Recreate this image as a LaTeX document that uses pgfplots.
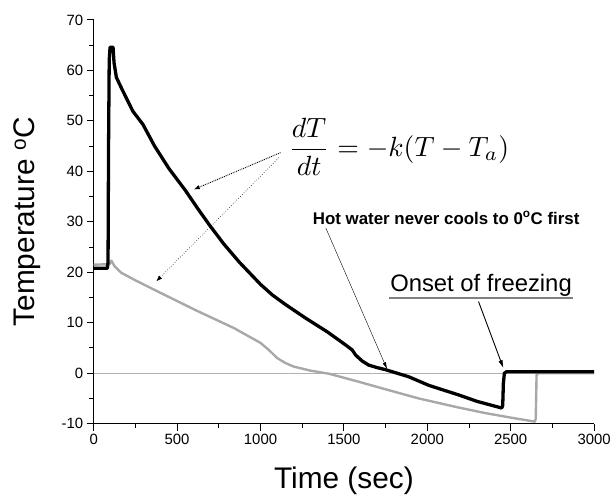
\documentclass[border=0pt]{standalone}
\usepackage{fontspec}
\setmainfont{Liberation Sans}
\usepackage{pgfplots}
\usepackage{pgfplotstable}
\pgfplotsset{compat=1.18}
\usetikzlibrary{arrows.meta}
\definecolor{lightcurve}{RGB}{168,168,168}
\definecolor{zeroline}{RGB}{178,178,178}

\pgfplotstableread{
t T
0 20.8
82 20.8
86 22
89 45
93 62
98 64.6
116 64.6
122 61.5
136 58.6
175 55.9
235 51.9
295 49.3
365 45.0
450 40.6
550 36.2
620 32.8
693 29.4
780 25.6
873 22.0
1000 17.6
1071 15.5
1150 13.6
1271 10.9
1400 8.2
1510 5.6
1550 4.6
1570 3.6
1610 2.4
1649 1.6
1700 1.1
1749 0.7
1888 -0.7
2008 -2.4
2187 -4.3
2300 -5.6
2446 -6.9
2452 -6.4
2456 -2.0
2462 0.0
2475 0.3
3000 0.3
}\hotwater

\pgfplotstableread{
t T
0 21.5
95 21.6
106 22.3
125 21.2
165 19.9
250 18.4
365 16.5
604 12.6
843 8.9
1000 6.0
1050 4.6
1100 3.0
1150 2.0
1200 1.3
1300 0.5
1410 -0.1
1600 -1.8
1729 -3.0
1948 -5.0
2187 -6.8
2347 -7.9
2500 -8.8
2645 -9.6
2650 -9.0
2655 -0.3
2665 0.0
3000 0.0
}\coldwater

\begin{document}
\begin{tikzpicture}
\begin{axis}[
  scale only axis, width=502bp, height=405bp,
  xmin=0, xmax=3000, ymin=-10, ymax=70,
  axis lines=left, axis line style={-, line width=1.1bp},
  xtick={0,500,...,3000}, ytick={-10,0,...,70},
  minor x tick num=1, minor y tick num=1,
  tick align=outside, major tick length=7bp, minor tick length=4.5bp,
  tick style={line width=1bp, black},
  scaled x ticks=false,
  /pgf/number format/assume math mode=true,
  /pgf/number format/1000 sep={},
  xticklabel style={font=\fontsize{15}{17}\selectfont},
  yticklabel style={font=\fontsize{15}{17}\selectfont},
  every axis x label/.style={at={(axis description cs:0.5,-0.1605)}, anchor=base,
    font=\fontsize{30}{32}\selectfont},
  every axis y label/.style={at={(axis description cs:-0.1175,0.5)}, rotate=90, anchor=base,
    font=\fontsize{30}{32}\selectfont},
  xlabel={Time (sec)},
  ylabel={Temperature \textsuperscript{o}C},
]
\coordinate (bl) at (rel axis cs:0,0);
\coordinate (tr) at (rel axis cs:1,1);
\addplot[zeroline, line width=0.7bp] coordinates {(0,0) (3000,0)};
\addplot[lightcurve, line width=2.4bp, line join=round] table[x=t, y=T] {\coldwater};
\addplot[black, line width=3.3bp, line join=round] table[x=t, y=T] {\hotwater};

\node[scale=2.8] at (axis cs:1829,44.8) {$\displaystyle\frac{dT}{dt} = -k(T-T_a)$};
\draw[densely dotted, line width=0.9bp, -{Latex[length=6bp,width=4.5bp]}] (axis cs:1120,43.7) -- (axis cs:600,36.4);
\draw[dotted, line width=0.6bp, -{Latex[length=6bp,width=4.5bp]}] (axis cs:1110,42.7) -- (axis cs:375,18.2);

\node[anchor=base, font=\bfseries\fontsize{17}{19}\selectfont] at (axis cs:2113,29.56) {Hot water never cools to 0\textsuperscript{o}C first};
\draw[line width=0.4bp, -{Latex[length=7bp,width=3.5bp]}] (axis cs:1391,28.8) -- (axis cs:1759,0.8);

\node[anchor=base, font=\fontsize{24}{26}\selectfont] at (axis cs:2322,16.2) {Onset of freezing};
\draw[line width=1.6bp, gray] (axis cs:1769,14.9) -- (axis cs:2875,14.9);
\draw[line width=0.9bp, -{Latex[length=8bp,width=4.5bp]}] (axis cs:2307,14.2) -- (axis cs:2456,1.0);
\end{axis}
\path ([shift={(-94bp,-69bp)}]bl) rectangle ([shift={(18bp,20bp)}]tr);
\end{tikzpicture}
\end{document}
